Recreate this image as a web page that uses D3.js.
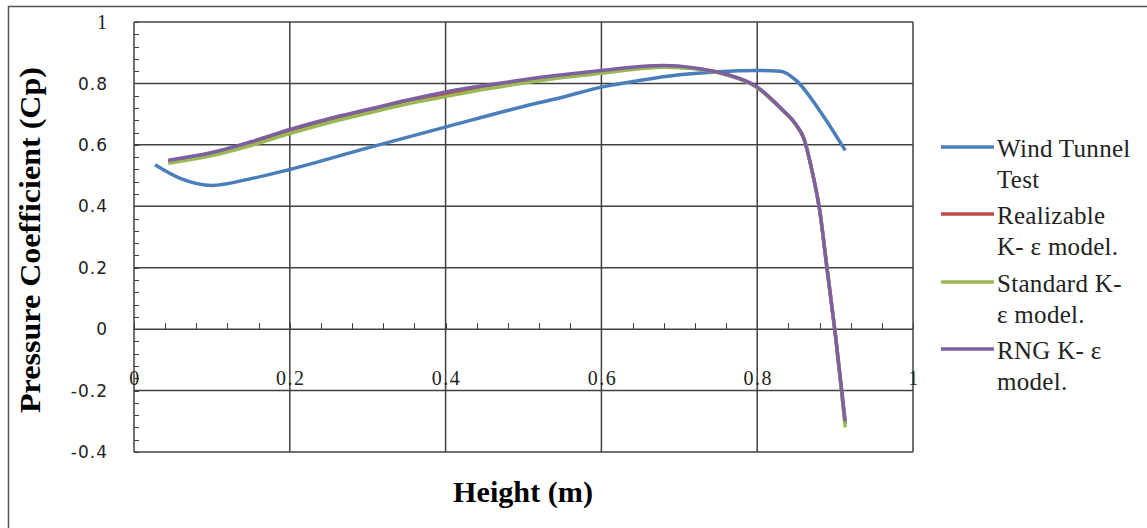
<!DOCTYPE html>
<html lang="en">
<head>
<meta charset="UTF-8">
<title>Pressure Coefficient vs Height</title>
<script src="https://cdn.jsdelivr.net/npm/d3@7/dist/d3.min.js"></script>
<style>
  body { margin: 0; background: #fff; }
  .serif { font-family: 'Liberation Serif', 'Times New Roman', serif; }
  .sans { font-family: 'DejaVu Sans', 'Liberation Sans', sans-serif; }
</style>
</head>
<body>
<script>
// data
var seriesNames = ["Wind Tunnel Test", "Realizable K- ε model.", "Standard K- ε model.", "RNG K- ε model."];
var legendLines = [["Wind Tunnel", "Test"], ["Realizable", "K- ε model."], ["Standard K-", "ε model."], ["RNG K- ε", "model."]];
var seriesColors = ["#4a7ebb", "#be4b48", "#98b954", "#7d60a0"];

var windX = [0.027, 0.06, 0.1, 0.15, 0.2, 0.3, 0.4, 0.5, 0.55, 0.6, 0.65, 0.7, 0.75, 0.8, 0.83, 0.85, 0.88, 0.913];
var windY = [0.535, 0.49, 0.468, 0.49, 0.52, 0.59, 0.658, 0.725, 0.755, 0.788, 0.81, 0.828, 0.838, 0.842, 0.84, 0.81, 0.712, 0.582];

var cfdX = [0.044, 0.1, 0.15, 0.2, 0.25, 0.3, 0.35, 0.4, 0.45, 0.5, 0.55, 0.6, 0.65, 0.68, 0.72, 0.76, 0.8, 0.83, 0.85, 0.86, 0.87, 0.88, 0.89, 0.9, 0.913];
var realizableY = [0.545, 0.57, 0.603, 0.643, 0.678, 0.709, 0.739, 0.765, 0.787, 0.807, 0.824, 0.838, 0.852, 0.856, 0.849, 0.829, 0.788, 0.72, 0.665, 0.62, 0.52, 0.39, 0.19, -0.01, -0.31];
var standardY = [0.54, 0.565, 0.598, 0.637, 0.672, 0.703, 0.733, 0.757, 0.781, 0.801, 0.819, 0.833, 0.848, 0.853, 0.848, 0.828, 0.786, 0.718, 0.664, 0.62, 0.52, 0.39, 0.19, -0.01, -0.32];
var rngY = [0.55, 0.575, 0.61, 0.65, 0.685, 0.715, 0.745, 0.772, 0.793, 0.812, 0.828, 0.842, 0.855, 0.858, 0.85, 0.83, 0.788, 0.72, 0.665, 0.62, 0.52, 0.39, 0.19, -0.01, -0.30];

var xTicks = [0, 0.2, 0.4, 0.6, 0.8, 1];
var yTicks = [-0.4, -0.2, 0, 0.2, 0.4, 0.6, 0.8, 1];

var w = 1147, h = 528;
var plot = { left: 134, right: 913, top: 22, bottom: 452 };

var svg = d3.select("body").append("svg")
    .attr("width", w)
    .attr("height", h);

// outer frame (only left and top edges are inside the picture)
svg.append("rect")
    .attr("x", 8.5).attr("y", 6.5)
    .attr("width", 1160).attr("height", 540)
    .attr("fill", "#fff")
    .attr("stroke", "#555")
    .attr("stroke-width", 1.5);

var xScale = d3.scaleLinear().domain([0, 1]).range([plot.left, plot.right]);
var yScale = d3.scaleLinear().domain([-0.4, 1]).range([plot.bottom, plot.top]);
var fmt = function(d) { return String(+d.toFixed(1)); };

// grid lines
svg.append("g").selectAll("line")
    .data(yTicks)
    .enter().append("line")
    .attr("x1", plot.left).attr("x2", plot.right)
    .attr("y1", function(d) { return yScale(d); })
    .attr("y2", function(d) { return yScale(d); })
    .attr("stroke", "#404040").attr("stroke-width", 1.5);

svg.append("g").selectAll("line")
    .data(xTicks)
    .enter().append("line")
    .attr("y1", plot.top).attr("y2", plot.bottom)
    .attr("x1", function(d) { return xScale(d); })
    .attr("x2", function(d) { return xScale(d); })
    .attr("stroke", "#404040").attr("stroke-width", 1.5);

// minor ticks on y axis (inside)
var yMinor = d3.range(-0.4, 1.0001, 0.04);
svg.append("g").selectAll("line")
    .data(yMinor)
    .enter().append("line")
    .attr("x1", plot.left).attr("x2", plot.left + 5)
    .attr("y1", function(d) { return Math.round(yScale(d)) + 0.5; })
    .attr("y2", function(d) { return Math.round(yScale(d)) + 0.5; })
    .attr("stroke", "#404040").attr("stroke-width", 1);

// minor ticks along the zero line
var xMinor = d3.range(0, 1.0001, 0.04);
svg.append("g").selectAll("line")
    .data(xMinor)
    .enter().append("line")
    .attr("x1", function(d) { return Math.round(xScale(d)) + 0.5; })
    .attr("x2", function(d) { return Math.round(xScale(d)) + 0.5; })
    .attr("y1", yScale(0)).attr("y2", yScale(0) - 6)
    .attr("stroke", "#404040").attr("stroke-width", 1);

// y tick labels
svg.append("g").selectAll("text")
    .data(yTicks)
    .enter().append("text")
    .attr("class", function(d) { return d === 1 ? "serif" : "sans"; })
    .attr("x", function(d) { return d === 1 ? 107 : 108; })
    .attr("y", function(d) { return yScale(d); })
    .attr("dy", "0.36em")
    .attr("text-anchor", "end")
    .attr("font-size", function(d) { return d === 1 ? 20 : 17; })
    .attr("letter-spacing", function(d) { return d === 1 ? 0 : 1; })
    .attr("fill", "#222")
    .text(fmt);

// x tick labels (sit between 0 and -0.2)
svg.append("g").selectAll("text")
    .data(xTicks)
    .enter().append("text")
    .attr("class", "serif")
    .attr("x", function(d) { return xScale(d) + 1; })
    .attr("y", 385)
    .attr("text-anchor", "middle")
    .attr("font-size", 20)
    .attr("letter-spacing", 1.5)
    .attr("fill", "#222")
    .text(fmt);

// series
var line = d3.line()
    .x(function(d) { return xScale(d[0]); })
    .y(function(d) { return yScale(d[1]); })
    .curve(d3.curveMonotoneX);

var series = [
    d3.zip(windX, windY),
    d3.zip(cfdX, realizableY),
    d3.zip(cfdX, standardY),
    d3.zip(cfdX, rngY)
];

svg.append("g").selectAll("path")
    .data(series)
    .enter().append("path")
    .attr("d", line)
    .attr("fill", "none")
    .attr("stroke", function(d, i) { return seriesColors[i]; })
    .attr("stroke-width", 3.5)
    .attr("stroke-linejoin", "round");

// axis titles
svg.append("text")
    .attr("class", "serif")
    .attr("x", 523).attr("y", 502)
    .attr("text-anchor", "middle")
    .attr("font-weight", "bold")
    .attr("font-size", 29)
    .attr("textLength", 140)
    .attr("lengthAdjust", "spacingAndGlyphs")
    .text("Height (m)");

svg.append("text")
    .attr("class", "serif")
    .attr("transform", "translate(40,240) rotate(-90)")
    .attr("text-anchor", "middle")
    .attr("font-weight", "bold")
    .attr("font-size", 29)
    .attr("textLength", 346)
    .attr("lengthAdjust", "spacingAndGlyphs")
    .text("Pressure Coefficient (Cp)");

// legend
var legendY = [147, 214, 282, 349];
var legend = svg.append("g").selectAll("g")
    .data(seriesNames)
    .enter().append("g")
    .attr("transform", function(d, i) { return "translate(941," + legendY[i] + ")"; });

legend.append("line")
    .attr("x1", 0).attr("x2", 53)
    .attr("stroke", function(d, i) { return seriesColors[i]; })
    .attr("stroke-width", 3.5);

legend.each(function(d, i) {
    var g = d3.select(this);
    legendLines[i].forEach(function(t, j) {
        g.append("text")
            .attr("class", "serif")
            .attr("x", 56)
            .attr("y", 10 + j * 31)
            .attr("font-size", 25)
            .attr("letter-spacing", 0.3)
            .attr("fill", "#222")
            .text(t);
    });
});
</script>
</body>
</html>
